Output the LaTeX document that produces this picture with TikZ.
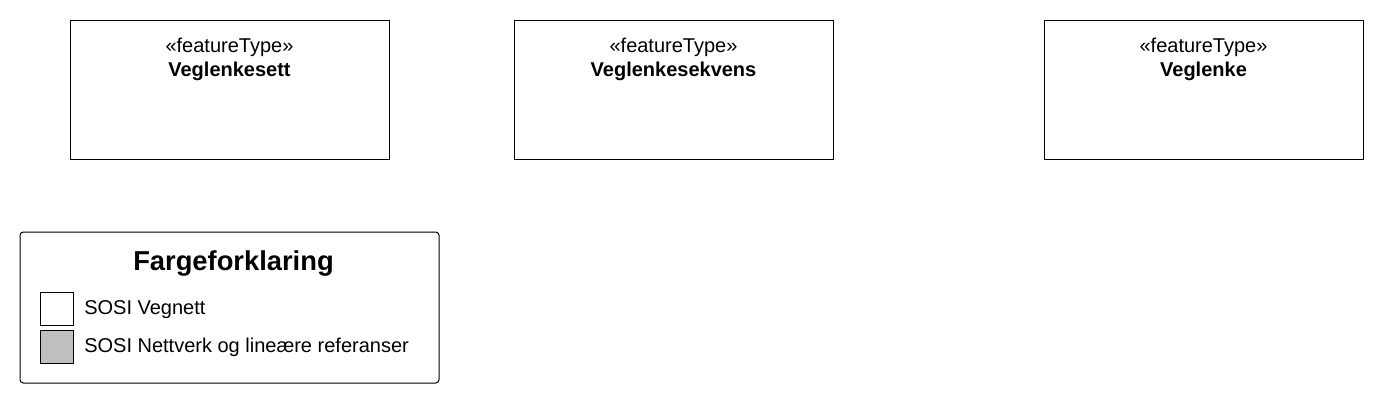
\documentclass[tikz,border=0pt]{standalone}
\usepackage{fontspec}
\setmainfont{Liberation Sans}
\usetikzlibrary{positioning}

\tikzset{
  classbox/.style={draw, line width=0.75pt, minimum width=239.25pt, minimum height=104.25pt, inner sep=0pt},
  stereo/.style={font=\fontsize{15}{18}\selectfont, anchor=base, inner sep=0pt},
  classname/.style={font=\fontsize{15}{18}\selectfont\bfseries, anchor=base, inner sep=0pt},
  legendbox/.style={draw, line width=0.75pt, rounded corners=2.5pt, minimum width=314.25pt, minimum height=113.25pt, inner sep=0pt},
  swatch/.style={draw, line width=0.75pt, minimum size=24.75pt, inner sep=0pt},
  legendtext/.style={font=\fontsize{15}{18}\selectfont, anchor=base west, inner sep=0pt}
}

\begin{document}
\begin{tikzpicture}[x=0.75pt, y=-0.75pt]
  \useasboundingbox (0,0) rectangle (1384,404);
  % feature types
  \node[classbox] (vlsett) at (229.5,89.5) {};
  \node[stereo] (vlsettst) at ([yshift=-24.4pt]vlsett.north) {«featureType»};
  \node[classname] (vlsettnm) at ([yshift=-43pt]vlsett.north) {Veglenkesett};

  \node[classbox] (vlsekv) at (673.5,89.5) {};
  \node[stereo] (vlsekvst) at ([yshift=-24.4pt]vlsekv.north) {«featureType»};
  \node[classname] (vlsekvnm) at ([yshift=-43pt]vlsekv.north) {Veglenkesekvens};

  \node[classbox] (vl) at (1203.5,89.5) {};
  \node[stereo] (vlst) at ([yshift=-24.4pt]vl.north) {«featureType»};
  \node[classname] (vlnm) at ([yshift=-43pt]vl.north) {Veglenke};

  % legend
  \node[legendbox] (legend) at (229.5,307.5) {};
  \node[font=\fontsize{20.5}{24}\selectfont\bfseries, anchor=base, inner sep=0pt] (legtitle)
    at ([xshift=3pt,yshift=-29.6pt]legend.north) {Fargeforklaring};
  \node[swatch, fill=white] (swvegnett) at (56.5,308.5) {};
  \node[legendtext] (txvegnett) at (84,314.5) {SOSI Vegnett};
  \node[swatch, fill=black!25] (swnettverk) at (56.5,346.5) {};
  \node[legendtext] (txnettverk) at (84,352.5) {SOSI Nettverk og lineære referanser};
\end{tikzpicture}
\end{document}
